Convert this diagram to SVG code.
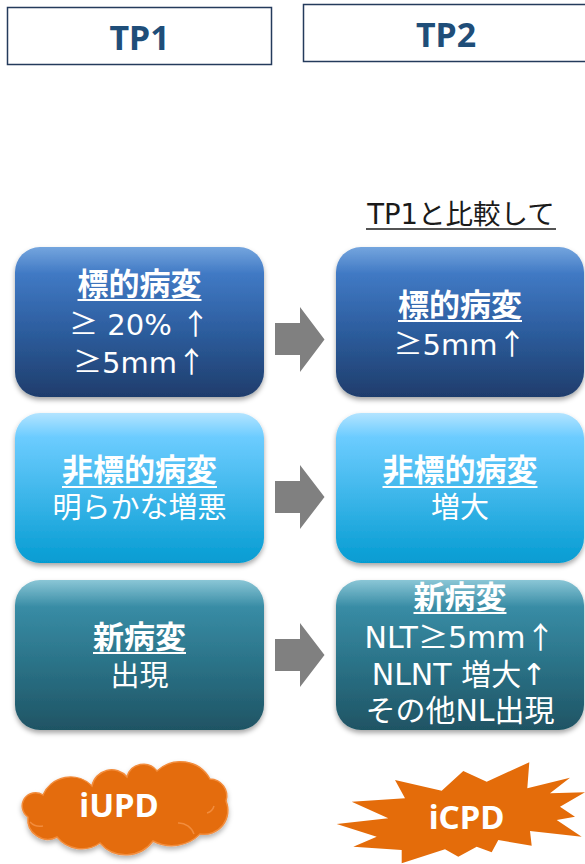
<svg xmlns="http://www.w3.org/2000/svg" width="585" height="864" viewBox="0 0 585 864">
<defs>
<linearGradient id="gBlue" x1="0" y1="0" x2="0" y2="1">
<stop offset="0" stop-color="#74A5DE"/><stop offset="0.18" stop-color="#4079C4"/><stop offset="0.55" stop-color="#2D5E9F"/><stop offset="1" stop-color="#1F3D6C"/>
</linearGradient>
<linearGradient id="gSky" x1="0" y1="0" x2="0" y2="1">
<stop offset="0" stop-color="#B3E4FF"/><stop offset="0.16" stop-color="#6CCCFF"/><stop offset="0.55" stop-color="#3DB6EA"/><stop offset="1" stop-color="#059CD2"/>
</linearGradient>
<linearGradient id="gTeal" x1="0" y1="0" x2="0" y2="1">
<stop offset="0" stop-color="#8AC6D6"/><stop offset="0.18" stop-color="#388CA5"/><stop offset="0.55" stop-color="#2B7388"/><stop offset="1" stop-color="#1F5464"/>
</linearGradient>
<filter id="sh" x="-10%" y="-10%" width="120%" height="125%">
<feDropShadow dx="0" dy="3" stdDeviation="2.5" flood-color="#000" flood-opacity="0.35"/>
</filter>
<filter id="shc" x="-10%" y="-10%" width="120%" height="130%">
<feDropShadow dx="0" dy="3" stdDeviation="2.5" flood-color="#000" flood-opacity="0.3"/>
</filter>
</defs>
<style>
.tp{fill:#fff;stroke:#243B5C;stroke-width:1.5}
.tpt{font-family:"Noto Sans",sans-serif;font-weight:700;font-size:34px;fill:#1F4E79;text-anchor:middle}
.box{filter:url(#sh)}
.hd{font-family:"Noto Sans CJK JP",sans-serif;font-weight:700;font-size:31px;fill:#fff;text-anchor:middle}
.bd{font-family:"DejaVu Sans","Noto Sans CJK JP",sans-serif;font-size:29px;fill:#fff;text-anchor:middle}
.bd2{font-size:30px}
.s{font-family:"Noto Sans CJK JP",sans-serif}
.ul{stroke:#fff;stroke-width:2}
.cmp{font-family:"DejaVu Sans","Noto Sans CJK JP",sans-serif;font-size:27.5px;fill:#1a1a1a;text-anchor:middle}
.arr{fill:#808080}
.org{fill:#E46C0A}
.lbl{font-family:"Noto Sans",sans-serif;font-weight:700;font-size:33px;fill:#fff;text-anchor:middle}
</style>

<g id="tp1">
<rect class="tp" x="7.5" y="7.5" width="264" height="57"/>
<text class="tpt" x="139.5" y="50">TP1</text>
</g>
<g id="tp2">
<rect class="tp" x="303.5" y="4.5" width="295" height="57"/>
<text class="tpt" x="446" y="47">TP2</text>
</g>

<g id="compare-label">
<text class="cmp" x="461" y="224">TP1と比較して</text>
<line x1="366" y1="229" x2="556" y2="229" stroke="#1a1a1a" stroke-width="1.5"/>
</g>

<g id="tp1-target">
<rect class="box" x="15" y="247" width="249" height="150" rx="25" fill="url(#gBlue)"/>
<text class="hd" x="139.5" y="295">標的病変</text>
<line class="ul" x1="77.5" y1="300" x2="201.5" y2="300"/>
<text class="bd" x="139.5" y="335"><tspan class="s">≥</tspan> 20% <tspan class="s">↑</tspan></text>
<text class="bd" x="139.5" y="373"><tspan class="s">≥</tspan>5mm<tspan class="s">↑</tspan></text>
</g>
<g id="tp2-target">
<rect class="box" x="336" y="247" width="248" height="150" rx="25" fill="url(#gBlue)"/>
<text class="hd" x="460" y="316">標的病変</text>
<line class="ul" x1="398" y1="321" x2="522" y2="321"/>
<text class="bd" x="460" y="355"><tspan class="s">≥</tspan>5mm<tspan class="s">↑</tspan></text>
</g>

<g id="tp1-nontarget">
<rect class="box" x="15" y="413" width="249" height="150" rx="25" fill="url(#gSky)"/>
<text class="hd" x="139.5" y="481">非標的病変</text>
<line class="ul" x1="62" y1="487" x2="217" y2="487"/>
<text class="bd" x="139.5" y="518">明らかな増悪</text>
</g>
<g id="tp2-nontarget">
<rect class="box" x="336" y="413" width="248" height="150" rx="25" fill="url(#gSky)"/>
<text class="hd" x="460" y="481">非標的病変</text>
<line class="ul" x1="382.5" y1="487" x2="537.5" y2="487"/>
<text class="bd" x="460" y="518">増大</text>
</g>

<g id="tp1-new">
<rect class="box" x="15" y="580" width="249" height="150" rx="25" fill="url(#gTeal)"/>
<text class="hd" x="139.5" y="648">新病変</text>
<line class="ul" x1="93" y1="653" x2="186" y2="653"/>
<text class="bd" x="139.5" y="686">出現</text>
</g>
<g id="tp2-new">
<rect class="box" x="336" y="580" width="248" height="150" rx="25" fill="url(#gTeal)"/>
<text class="hd" x="460" y="608">新病変</text>
<line class="ul" x1="413.5" y1="613" x2="506.5" y2="613"/>
<text class="bd bd2" x="460" y="648">NLT<tspan class="s">≥</tspan>5mm<tspan class="s">↑</tspan></text>
<text class="bd bd2" x="459" y="685">NLNT 増大↑</text>
<text class="bd bd2" x="460" y="721">その他NL出現</text>
</g>

<g id="connectors">
<polygon class="arr" points="275,323 300,323 300,307 324.5,339.5 300,372 300,355 275,355"/>
<polygon class="arr" points="275,481 300,481 300,465 324.5,497 300,529 300,513 275,513"/>
<polygon class="arr" points="275,639 300,639 300,623 324.5,655 300,687 300,671 275,671"/>
</g>

<g id="iupd">
<path filter="url(#shc)" class="org" stroke="#F28C3C" stroke-width="1.5" d="M43,795 A30,30 0 0 1 92,786 A20,20 0 0 1 127,777 A17,17 0 0 1 157,771 A34,34 0 0 1 210,779 A17,17 0 0 1 226,801 A24,24 0 0 1 200,834 A40,40 0 0 1 153,841 A34,34 0 0 1 100,843 A32,32 0 0 1 57,837 A20,20 0 0 1 28,817 A13,13 0 0 1 43,795 Z"/>
<path fill="none" stroke="#F28C3C" stroke-width="1.5" d="M178,823 A16,16 0 0 1 194,834 M207,813 A10,10 0 0 0 214,806 M30,822 A14,14 0 0 0 43,826"/>
<text class="lbl" x="119" y="817">iUPD</text>
</g>

<g id="icpd">
<polygon class="org" points="395,780 441.7,790.7 463.3,771 486.7,781.7 529.3,762.3 527.3,788.3 570,777.7 550,793.3 585,792.3 560,806.7 575,816.7 556.7,820 581.7,836.7 530,831 531.7,845.7 498.3,840 491.7,852.3 476.7,846.7 458.3,856.7 445,849.3 401.7,863.3 401.7,850 353.3,846.7 376.7,836.7 336.7,824 388.3,818.3 351.7,801.7 405,798.3"/>
<text class="lbl" x="466.5" y="829">iCPD</text>
</g>
</svg>
